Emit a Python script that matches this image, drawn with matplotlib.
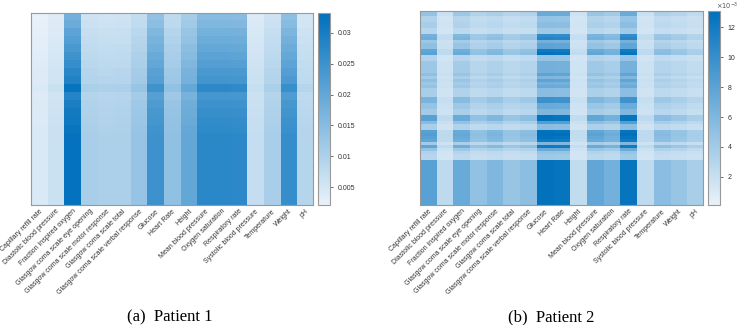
import numpy as np
import matplotlib
import matplotlib.pyplot as plt
from matplotlib.colors import LinearSegmentedColormap

features = ["Capillary refill rate", "Diastolic blood pressure", "Fraction inspired oxygen",
            "Glasgow coma scale eye opening", "Glasgow coma scale motor response",
            "Glasgow coma scale total", "Glasgow coma scale verbal response", "Glucose",
            "Heart Rate", "Height", "Mean blood pressure", "Oxygen saturation",
            "Respiratory rate", "Systolic blood pressure", "Temperature", "Weight", "pH"]

# patient 1: per-feature level (bottom rows) and per-time-step factor
p1_cols = [0.0042, 0.0062, 0.0325, 0.0105, 0.0100, 0.0102, 0.0130, 0.0250, 0.0140,
           0.0200, 0.0275, 0.0275, 0.0272, 0.0070, 0.0105, 0.0260, 0.0090]
p1_rows = [0.55, 0.58, 0.64, 0.68, 0.72, 0.76, 0.80, 0.85, 0.88, 0.99, 0.87, 0.91,
           0.94, 0.96, 0.98, 1.0, 1.0, 1.0, 1.0, 1.0, 1.0, 1.0, 1.0, 1.0]

# patient 2: per-feature weight (x1e-3) and per-time-step intensity
p2_cols = [7.5, 1.6, 6.5, 4.2, 5.2, 3.8, 4.5, 12.5, 12.3, 1.3, 7.0, 6.0, 12.3,
           1.6, 4.6, 3.8, 2.8]
p2_rows = [0.50, 0.50, 0.30, 0.30, 0.35, 0.35, 0.25, 0.25, 0.75, 0.80, 0.45, 0.55,
           0.55, 0.90, 0.95, 0.30, 0.30, 0.45, 0.45, 0.45, 0.45, 0.55, 0.40, 0.55,
           0.45, 0.50, 0.35, 0.35, 0.35, 0.70, 0.70, 0.50, 0.50, 0.40, 0.40, 0.95,
           0.95, 0.60, 0.35, 0.35, 0.95, 1.0, 0.95, 0.90, 0.40, 0.90, 0.50, 0.30,
           0.25, 0.25, 0.95, 0.95, 0.95, 0.95, 0.95, 0.95, 0.95, 0.95, 0.95, 0.95,
           0.95, 0.95, 0.95, 0.95, 0.95]
p2_base = 1.0

p1 = np.outer(p1_rows, p1_cols)
p2 = (p2_base + np.outer(p2_rows, p2_cols)) * 1e-3

cmap = LinearSegmentedColormap.from_list("blu", ["#e9f2fa", "#0070bd"])

plt.rcParams['font.family'] = 'Liberation Sans'
fig = plt.figure(figsize=(7.39, 3.25), dpi=100)

def draw(ax, cax, data, vmin, vmax, ticks, ticklabels):
    im = ax.imshow(data, cmap=cmap, vmin=vmin, vmax=vmax, aspect='auto',
                   interpolation='nearest')
    ax.set_xticks(range(len(features)))
    ax.set_xticklabels(features, rotation=45, ha='right', rotation_mode='anchor',
                       fontsize=5, color='#333333')
    ax.set_yticks([])
    ax.tick_params(axis='x', length=0, pad=2)
    for s in ax.spines.values():
        s.set_color('#999999')
        s.set_linewidth(0.8)
    cb = fig.colorbar(im, cax=cax)
    cb.set_ticks(ticks)
    cb.set_ticklabels(ticklabels)
    cax.tick_params(labelsize=5, length=2, width=0.5, colors='#333333')
    cb.outline.set_edgecolor('#999999')
    cb.outline.set_linewidth(0.8)

ax1 = fig.add_axes([0.042, 0.369, 0.3816, 0.591])
cax1 = fig.add_axes([0.4303, 0.369, 0.0162, 0.591])
draw(ax1, cax1, p1, 0.0021, 0.0332, [0.005, 0.01, 0.015, 0.02, 0.025, 0.03],
     ["0.005", "0.01", "0.015", "0.02", "0.025", "0.03"])

ax2 = fig.add_axes([0.5683, 0.369, 0.383, 0.597])
cax2 = fig.add_axes([0.958, 0.369, 0.0162, 0.597])
draw(ax2, cax2, p2, 0.0001, 0.0131, [0.002, 0.004, 0.006, 0.008, 0.010, 0.012],
     ["2", "4", "6", "8", "10", "12"])
fig.text(716 / 739, 1 - 6 / 325, r"$\times10^{-3}$", ha='left', va='center',
         fontsize=4.8, color='#555555')

fig.text(170 / 739, 1 - 317 / 325, "(a)  Patient 1", ha='center', va='center',
         family='Liberation Serif', fontsize=12)
fig.text(551 / 739, 1 - 317 / 325, "(b)  Patient 2", ha='center', va='center',
         family='Liberation Serif', fontsize=12)

fig.savefig("out.png", dpi=100)
